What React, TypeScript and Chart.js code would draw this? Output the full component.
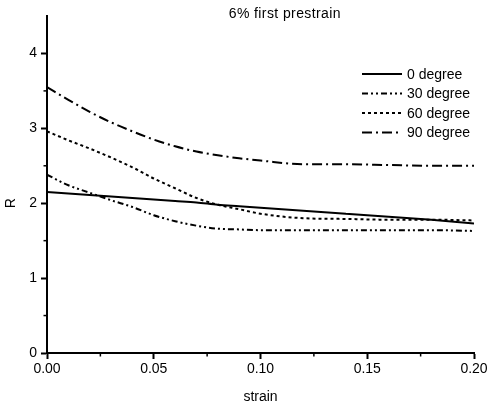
import React, { useEffect, useRef } from "react";
import { Chart, registerables } from "chart.js";

Chart.register(...registerables);

const strain = [0, 0.01, 0.02, 0.03, 0.04, 0.05, 0.06, 0.07, 0.08, 0.09, 0.1, 0.12, 0.14, 0.16, 0.18, 0.2];
const deg0 = [2.15, 2.13, 2.11, 2.09, 2.07, 2.05, 2.03, 2.01, 1.98, 1.96, 1.94, 1.9, 1.86, 1.82, 1.78, 1.73];
const deg30 = [2.38, 2.24, 2.14, 2.04, 1.95, 1.84, 1.76, 1.7, 1.66, 1.65, 1.64, 1.64, 1.64, 1.64, 1.64, 1.63];
const deg60 = [2.96, 2.84, 2.73, 2.61, 2.48, 2.33, 2.2, 2.07, 1.98, 1.92, 1.86, 1.8, 1.79, 1.78, 1.78, 1.77];
const deg90 = [3.55, 3.38, 3.22, 3.08, 2.96, 2.85, 2.76, 2.69, 2.64, 2.6, 2.57, 2.52, 2.52, 2.51, 2.5, 2.5];

const seriesLabels = ["0 degree", "30 degree", "60 degree", "90 degree"];
const seriesValues = [deg0, deg30, deg60, deg90];
const seriesDash = [[], [6, 3, 2, 3, 2, 3], [3, 3], [10, 4, 2, 4]];

const xMinorTicks = [0.025, 0.075, 0.125, 0.175];
const yMinorTicks = [0.5, 1.5, 2.5, 3.5];
const titleText = "6% first prestrain";
const xTitle = "strain";
const yTitle = "R";

const FONT = "'Liberation Sans', Arial, Helvetica, sans-serif";

const decorPlugin = {
  id: "decor",
  afterDraw(chart: any) {
    const ctx = chart.ctx;
    const xs = chart.scales.x;
    const ys = chart.scales.y;
    const area = chart.chartArea;
    ctx.save();
    // minor ticks
    ctx.strokeStyle = "#000";
    ctx.lineWidth = 1.5;
    ctx.setLineDash([]);
    xMinorTicks.forEach((v) => {
      const px = xs.getPixelForValue(v);
      ctx.beginPath();
      ctx.moveTo(px, area.bottom);
      ctx.lineTo(px, area.bottom + 3.5);
      ctx.stroke();
    });
    yMinorTicks.forEach((v) => {
      const py = ys.getPixelForValue(v);
      ctx.beginPath();
      ctx.moveTo(area.left, py);
      ctx.lineTo(area.left - 3.5, py);
      ctx.stroke();
    });
    // title
    ctx.fillStyle = "#000";
    ctx.font = `14px ${FONT}`;
    try { (ctx as any).letterSpacing = "0.4px"; } catch (e) {}
    ctx.textAlign = "center";
    ctx.textBaseline = "middle";
    ctx.fillText(titleText, area.left + (area.right - area.left) * 0.557, 14);
    try { (ctx as any).letterSpacing = "0px"; } catch (e) {}
    // y title
    ctx.font = `14px ${FONT}`;
    const yMid = (ys.getPixelForValue(0) + ys.getPixelForValue(4)) / 2;
    ctx.translate(11, yMid);
    ctx.rotate(-Math.PI / 2);
    ctx.fillText(yTitle, 0, 0);
    ctx.setTransform(1, 0, 0, 1, 0, 0);
    // legend
    const lx0 = area.right - 112;
    const lx1 = lx0 + 40;
    const ly0 = 74;
    const step = 19.5;
    ctx.font = `14px ${FONT}`;
    ctx.textAlign = "left";
    seriesLabels.forEach((lab, i) => {
      const y = ly0 + i * step;
      ctx.beginPath();
      ctx.setLineDash(seriesDash[i]);
      ctx.lineWidth = 2;
      ctx.moveTo(lx0, y);
      ctx.lineTo(lx1, y);
      ctx.stroke();
      ctx.setLineDash([]);
      ctx.fillText(lab, lx1 + 5, y + 1);
    });
    ctx.restore();
  },
};

export default function App() {
  const ref = useRef<HTMLCanvasElement>(null);
  useEffect(() => {
    if (!ref.current) return;
    const chart = new Chart(ref.current, {
      type: "line",
      data: {
        datasets: seriesLabels.map((lab, i) => ({
          label: lab,
          data: strain.map((s, j) => ({ x: s, y: seriesValues[i][j] })),
          borderColor: "#000",
          borderWidth: 2,
          borderDash: seriesDash[i],
          pointRadius: 0,
          fill: false,
          tension: 0.3,
          cubicInterpolationMode: "monotone" as const,
        })),
      },
      options: {
        animation: false,
        responsive: true,
        maintainAspectRatio: false,
        layout: { padding: { top: 16, right: 17, left: 0, bottom: 0 } },
        plugins: {
          legend: { display: false },
          tooltip: { enabled: false },
          title: { display: false },
        },
        scales: {
          x: {
            type: "linear",
            min: 0,
            max: 0.2,
            border: { display: true, color: "#000", width: 2 },
            grid: { display: true, drawOnChartArea: false, drawTicks: true, tickLength: 6, tickWidth: 2, tickColor: "#000" },
            ticks: {
              stepSize: 0.05,
              includeBounds: false,
              color: "#000",
              padding: 2,
              maxRotation: 0,
              font: { family: FONT, size: 14 },
              callback: (v: any) => Number(v).toFixed(2),
            },
            title: { display: true, text: xTitle, color: "#000", font: { family: FONT, size: 14 }, padding: { top: 4, bottom: 5 } },
            afterFit: (s: any) => { s.height = 58; },
          },
          y: {
            type: "linear",
            min: 0,
            max: 4.5,
            border: { display: true, color: "#000", width: 2 },
            grid: { display: true, drawOnChartArea: false, drawTicks: true, tickLength: 6, tickWidth: 2, tickColor: "#000" },
            ticks: {
              stepSize: 1,
              includeBounds: false,
              color: "#000",
              padding: 4,
              font: { family: FONT, size: 14 },
              callback: (v: any) => String(v),
            },
            afterFit: (s: any) => { s.width = 47; },
          },
        },
      },
      plugins: [decorPlugin],
    });
    return () => chart.destroy();
  }, []);
  return (
    <div style={{ position: "fixed", left: 0, top: 0, width: 491, height: 411, background: "#fff" }}>
      <canvas ref={ref} />
    </div>
  );
}
